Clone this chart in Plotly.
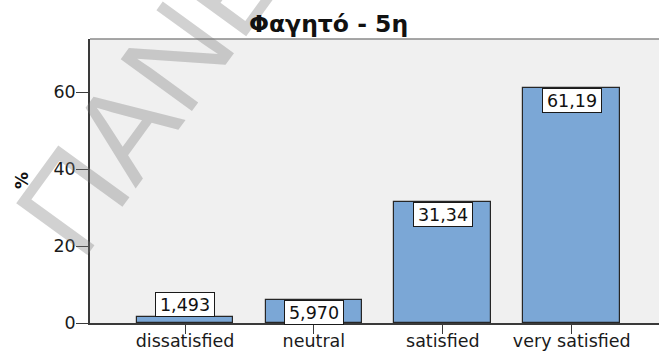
import plotly.graph_objects as go

# Satisfaction with food (5th survey), percentages per response category
categories = ["dissatisfied", "neutral", "satisfied", "very satisfied"]
percent = [1.493, 5.970, 31.34, 61.19]
value_labels = ["1,493", "5,970", "31,34", "61,19"]
y_ticks = [0, 20, 40, 60]

title_text = "Φαγητό - 5η"
y_title = "%"
watermark = "ΠΑΝΕΠΙΣΤΗΜΙΟ"

W, H = 659, 351
L, R, T, B = 90, 0, 39, 28

BAR = "#7BA7D6"
EDGE = "#262626"
AXIS = "#3a3a3a"

fig = go.Figure()
fig.add_trace(go.Bar(
    x=list(range(len(categories))),
    y=percent,
    width=0.75,
    marker=dict(color=BAR, line=dict(color=EDGE, width=1.2)),
    hoverinfo="skip",
))

# value boxes: inside the top of the bar, or above it when the bar is too short
annotations = []
for i, (v, lab) in enumerate(zip(percent, value_labels)):
    inside = v > 3
    annotations.append(dict(
        x=i, y=v, xref="x", yref="y",
        text=lab, showarrow=False,
        xanchor="center", yanchor="top" if inside else "bottom",
        font=dict(family="DejaVu Sans", size=17.5, color="#111111"),
        bgcolor="white", bordercolor="#1a1a1a", borderwidth=1, borderpad=1,
        width=56, height=21, align="center", valign="middle",
    ))

plot_w = W - L - R
plot_h = H - T - B

# faint diagonal watermark across the upper-left of the figure
cx, cy = 331, -157
annotations.append(dict(
    x=(cx - L) / plot_w, y=(H - B - cy) / plot_h, xref="paper", yref="paper",
    text=watermark, showarrow=False, textangle=-54,
    xanchor="center", yanchor="middle",
    font=dict(family="Liberation Sans", size=128, color="rgba(120,120,120,0.34)"),
))

annotations.append(dict(
    x=(328 - L) / plot_w, y=(H - B - 24) / plot_h, xref="paper", yref="paper",
    text=f"<b>{title_text}</b>", showarrow=False,
    xanchor="center", yanchor="middle",
    font=dict(family="DejaVu Sans", size=23.5, color="#111111"),
))

# y-axis title, rotated, centred on the plot height
annotations.append(dict(
    x=(22 - L) / plot_w, y=0.5, xref="paper", yref="paper",
    text=f"<b>{y_title}</b>", showarrow=False, textangle=-90,
    xanchor="center", yanchor="middle",
    font=dict(family="DejaVu Sans", size=17, color="#111111"),
))

fig.update_layout(
    width=W, height=H,
    margin=dict(l=L, r=R, t=T, b=B, pad=0, autoexpand=False),
    paper_bgcolor="white",
    plot_bgcolor="#F0F0F0",
    showlegend=False,
    annotations=annotations,
    shapes=[dict(type="line", xref="paper", yref="paper", x0=0, x1=1, y0=1, y1=1,
                 line=dict(color="#8a8a8a", width=1.5))],
    bargap=0,
)

fig.update_xaxes(
    automargin=False,
    range=[-0.737, 3.677],
    tickmode="array", tickvals=list(range(len(categories))), ticktext=categories,
    ticks="outside", ticklen=9, tickwidth=1.2, tickcolor=AXIS,
    showline=True, linecolor=AXIS, linewidth=1.6,
    showgrid=False, zeroline=False,
    ticklabelstandoff=-8,
    tickfont=dict(family="DejaVu Sans", size=17.5, color="#1a1a1a"),
)
fig.update_yaxes(
    automargin=False,
    range=[0, 73.8],
    tickmode="array", tickvals=y_ticks, ticktext=[str(t) for t in y_ticks],
    ticks="outside", ticklen=12, tickwidth=1.2, tickcolor=AXIS,
    showline=True, linecolor=AXIS, linewidth=1.6,
    showgrid=False, zeroline=False,
    ticklabelstandoff=-3,
    tickfont=dict(family="DejaVu Sans", size=17.5, color="#1a1a1a"),
)

fig.write_html("out.html")
